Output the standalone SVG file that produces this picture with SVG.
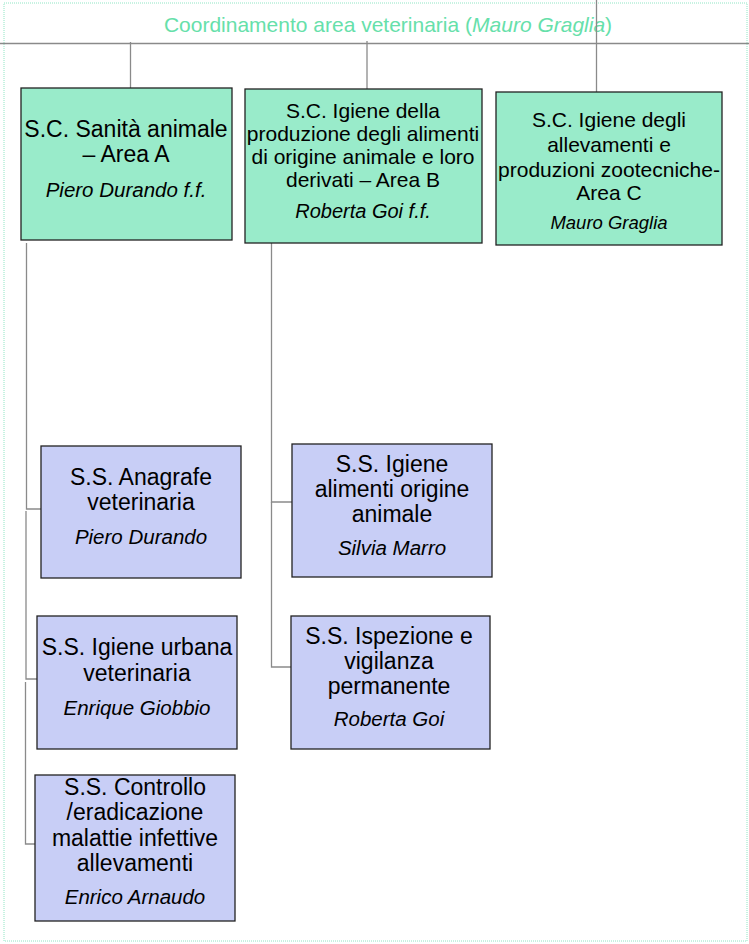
<svg xmlns="http://www.w3.org/2000/svg" width="749" height="944" viewBox="0 0 749 944">
<style>
text{font-family:"Liberation Sans",Arial,sans-serif;fill:#000;text-anchor:middle}
.t{font-size:23px}
.m{font-size:21px}
.i{font-style:italic;font-size:20.5px}
.g rect{fill:#99EBCA;stroke:#222;stroke-width:1.3}
.b rect{fill:#C8CEF6;stroke:#222;stroke-width:1.3}
.c{fill:none;stroke:#8a8a8a;stroke-width:1.3}
</style>
<rect x="4" y="3" width="743" height="938" fill="none" stroke="#8FE6C4" stroke-width="1" stroke-dasharray="1,1"/>
<text id="title" x="388" y="32" style="font-size:21px;fill:#66E0AA">Coordinamento area veterinaria (<tspan font-style="italic">Mauro Graglia</tspan>)</text>
<g id="connectors" class="c">
<path d="M0,43.5H749"/>
<path d="M130.5,42V88"/>
<path d="M367,41V89"/>
<path d="M596.5,0V92"/>
<path d="M26.5,243V509H41"/>
<path d="M26,511V679H37"/>
<path d="M25.5,682V844H35"/>
<path d="M271.5,243V502H292"/>
<path d="M271.5,502V667H291"/>
</g>
<g id="areaA" class="g">
<rect x="21" y="88" width="211" height="152"/>
<text class="t" x="126" y="137">S.C. Sanità animale</text>
<text class="t" x="126" y="162">– Area A</text>
<text class="i" x="126" y="197">Piero Durando f.f.</text>
</g>
<g id="areaB" class="g">
<rect x="245" y="89" width="237" height="154"/>
<text class="m" x="363" y="118">S.C. Igiene della</text>
<text class="m" x="363" y="141">produzione degli alimenti</text>
<text class="m" x="363" y="164">di origine animale e loro</text>
<text class="m" x="363" y="187">derivati – Area B</text>
<text class="i" x="363" y="218" style="font-size:20px">Roberta Goi f.f.</text>
</g>
<g id="areaC" class="g">
<rect x="496" y="92" width="226" height="153"/>
<text class="m" x="609" y="127">S.C. Igiene degli</text>
<text class="m" x="609" y="152">allevamenti e</text>
<text class="m" x="609" y="177">produzioni zootecniche-</text>
<text class="m" x="609" y="200">Area C</text>
<text class="i" x="609" y="229" style="font-size:18.5px">Mauro Graglia</text>
</g>
<g id="anagrafe" class="b">
<rect x="41" y="446" width="200" height="132"/>
<text class="t" x="141" y="485">S.S. Anagrafe</text>
<text class="t" x="141" y="510">veterinaria</text>
<text class="i" x="141" y="544">Piero Durando</text>
</g>
<g id="urbana" class="b">
<rect x="37" y="616" width="200" height="133"/>
<text class="t" x="137" y="655">S.S. Igiene urbana</text>
<text class="t" x="137" y="681">veterinaria</text>
<text class="i" x="137" y="715">Enrique Giobbio</text>
</g>
<g id="controllo" class="b">
<rect x="35" y="775" width="200" height="146"/>
<text class="t" x="135" y="795">S.S. Controllo</text>
<text class="t" x="135" y="820">/eradicazione</text>
<text class="t" x="135" y="846">malattie infettive</text>
<text class="t" x="135" y="871">allevamenti</text>
<text class="i" x="135" y="904">Enrico Arnaudo</text>
</g>
<g id="alimenti" class="b">
<rect x="292" y="444" width="200" height="133"/>
<text class="t" x="392" y="472">S.S. Igiene</text>
<text class="t" x="392" y="497">alimenti origine</text>
<text class="t" x="392" y="522">animale</text>
<text class="i" x="392" y="555">Silvia Marro</text>
</g>
<g id="ispezione" class="b">
<rect x="291" y="616" width="199" height="133"/>
<text class="t" x="389" y="644">S.S. Ispezione e</text>
<text class="t" x="389" y="669">vigilanza</text>
<text class="t" x="389" y="694">permanente</text>
<text class="i" x="389" y="726">Roberta Goi</text>
</g>
</svg>
